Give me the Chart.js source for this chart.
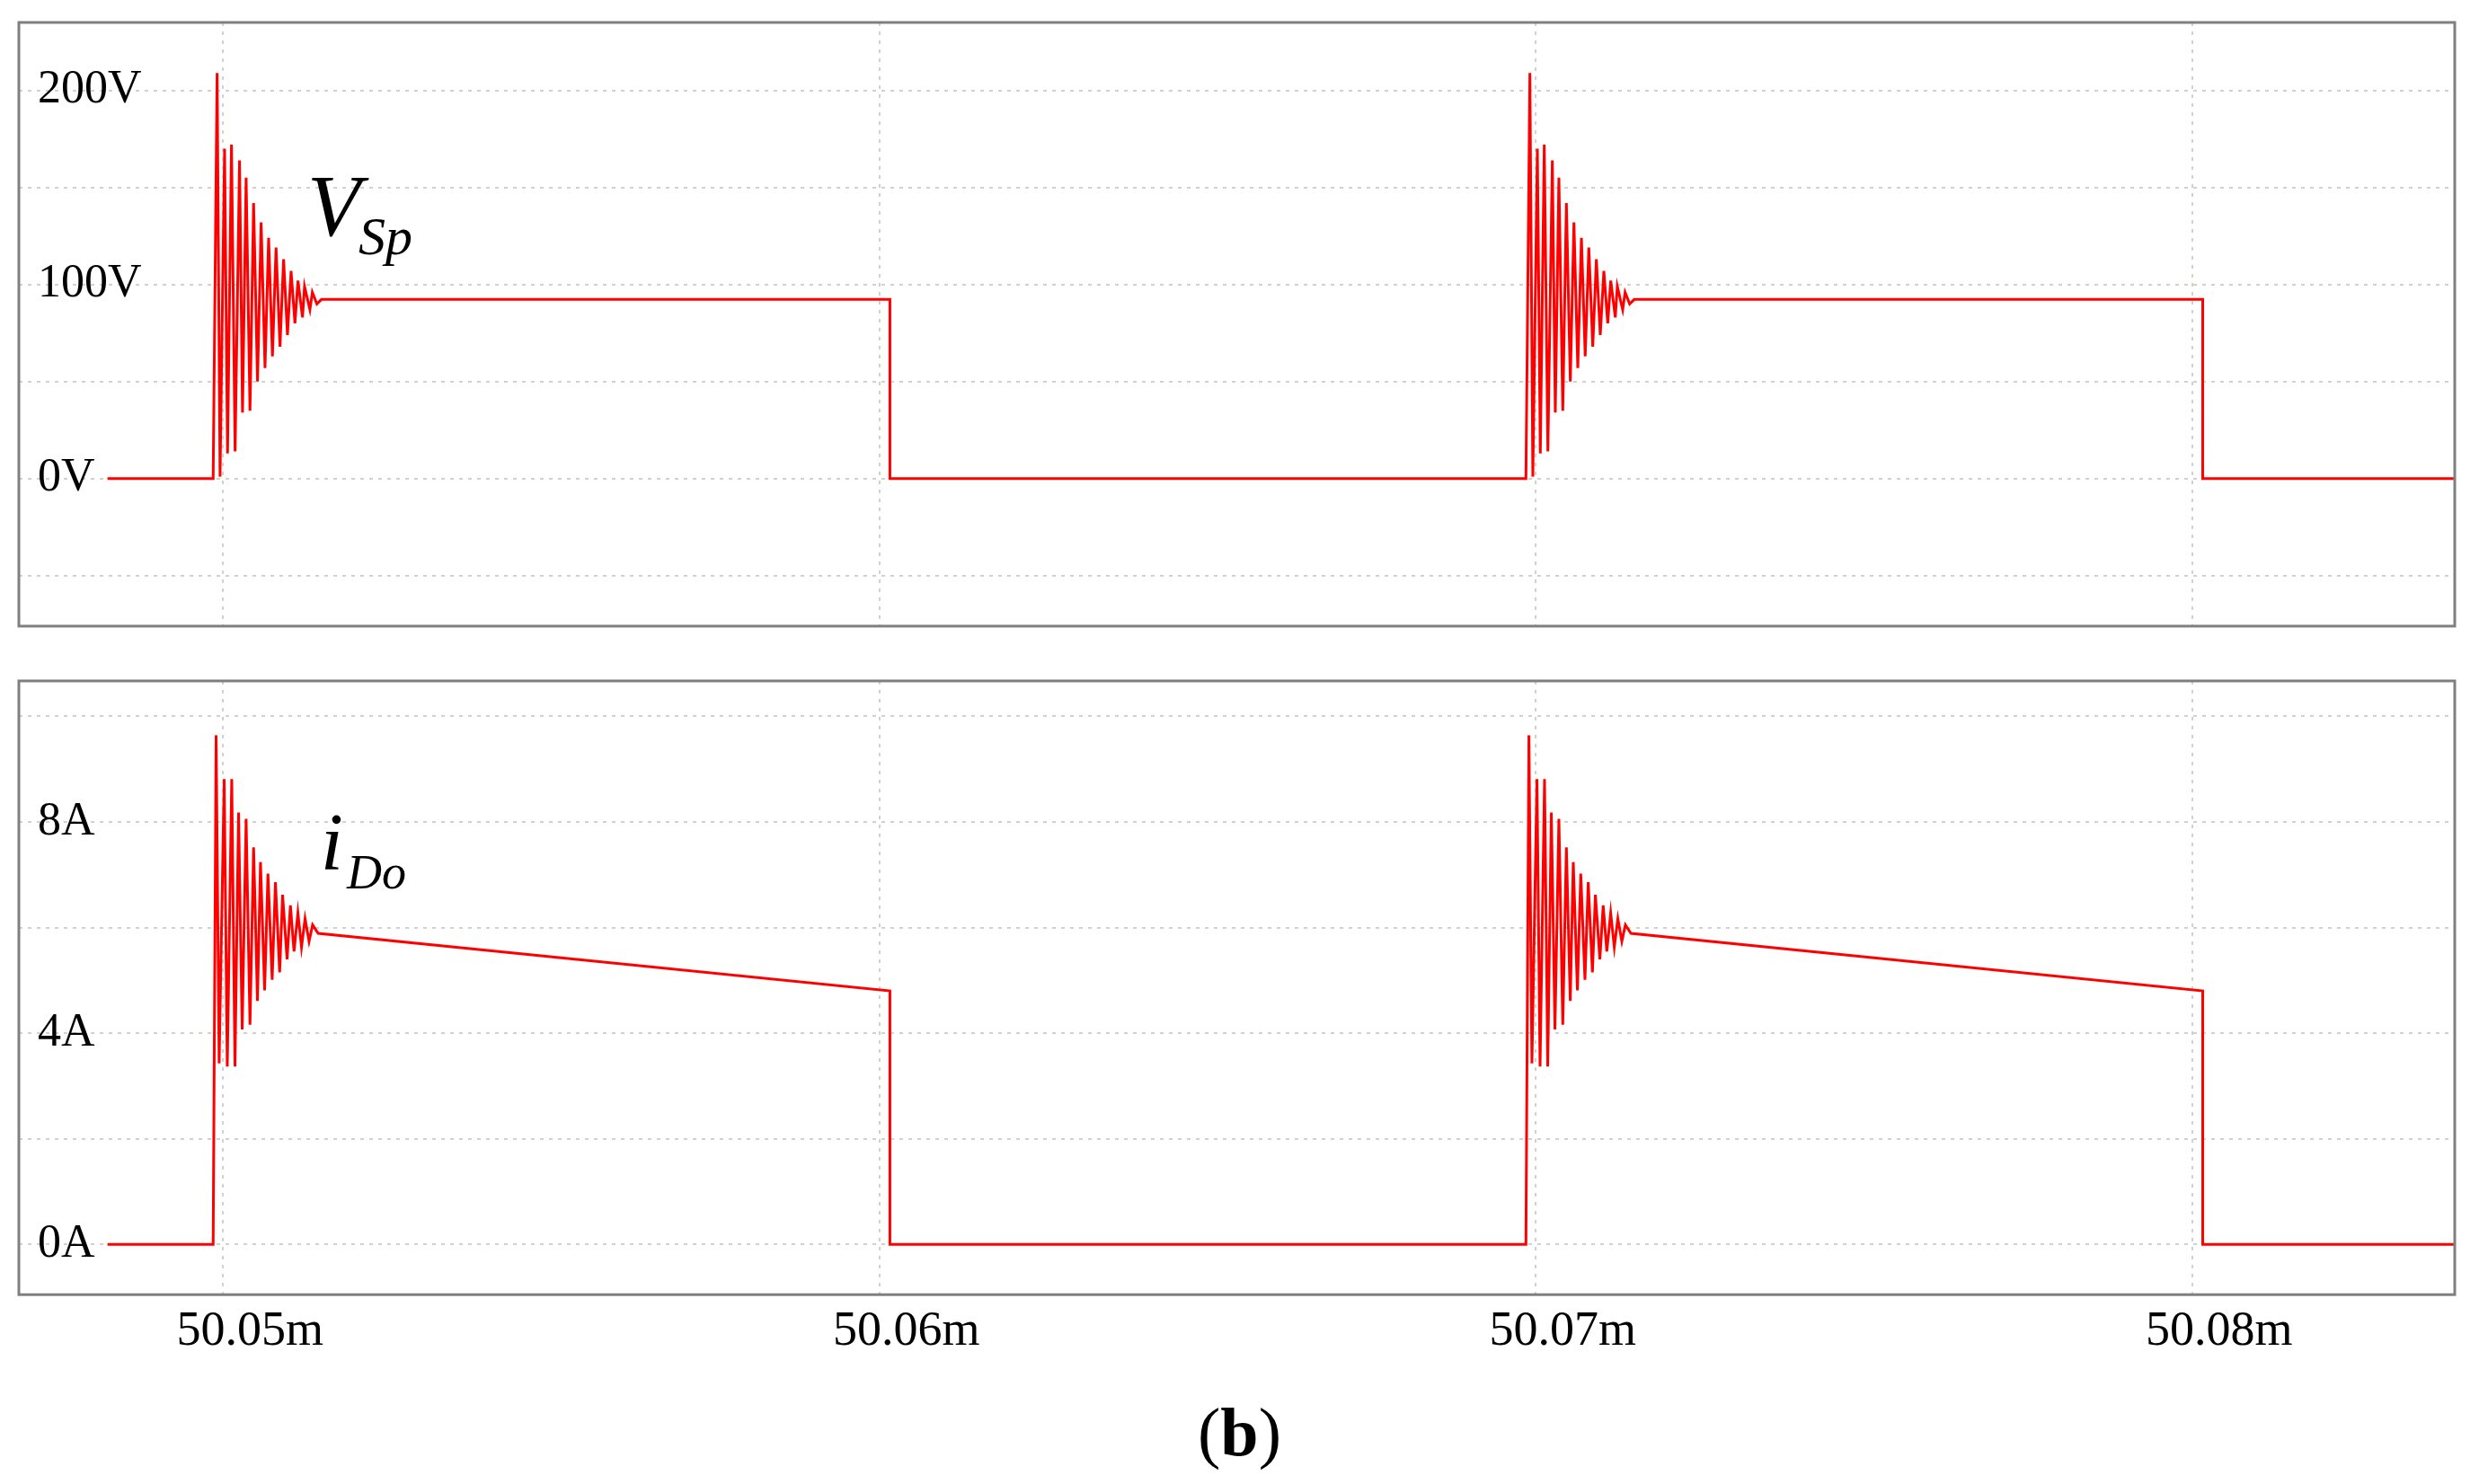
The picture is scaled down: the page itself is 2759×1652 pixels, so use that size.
<!DOCTYPE html>
<html>
<head>
<meta charset="utf-8">
<script src="https://cdn.jsdelivr.net/npm/chart.js@4.4.0/dist/chart.umd.min.js"></script>
<style>
  html, body { margin: 0; padding: 0; background: #fff; }
  body { width: 2759px; height: 1652px; position: relative; overflow: hidden; }
  .panel { position: absolute; left: 0; }
  #vWrap { top: 0; }
  #iWrap { top: 720px; }
  #caption { position: absolute; left: 0; width: 2759px; top: 1551px; line-height: 76px;
             text-align: center; font: 76px "Liberation Serif", serif; color: #000; }
</style>
</head>
<body>
<div class="panel" id="vWrap"><canvas id="vChart" width="2759" height="720"></canvas></div>
<div class="panel" id="iWrap"><canvas id="iChart" width="2759" height="932"></canvas></div>
<div id="caption">(<b>b</b>)</div>
<script>
// time axis, in ms
var xMin = 50.04689, xMax = 50.08400;
var xTicks = [50.05, 50.06, 50.07, 50.08];
var xLabels = ["50.05m", "50.06m", "50.07m", "50.08m"];

// switching instants (ms)
var traceStart = 50.04824;
var pulseOn = [50.04985, 50.06985];
var pulseOff = [50.06016, 50.08016];

// V_Sp ringing after turn-on: offset (us) and value (V)
var vRingT = [0, 0.060, 0.105, 0.174, 0.219, 0.279, 0.334, 0.402, 0.447, 0.502, 0.561, 0.616, 0.676,
              0.731, 0.790, 0.845, 0.903, 0.958, 1.018, 1.073, 1.132, 1.187, 1.246, 1.292, 1.361,
              1.392, 1.474, 1.511, 1.580];
var vRingV = [0, 209, 1, 170, 13, 172, 14, 164, 34, 155, 35, 142, 50,
              132, 57, 124, 63, 119, 68, 113, 74, 107, 80, 102, 83,
              99, 87, 96, 90];
var vHoldT = [1.65];
var vHoldV = [92.3];
var vFall = 92.3;

// i_Do ringing after turn-on
var iRingT = [0, 0.045, 0.091, 0.168, 0.215, 0.283, 0.332, 0.387, 0.442, 0.502, 0.561, 0.616, 0.675,
              0.721, 0.784, 0.835, 0.899, 0.949, 1.013, 1.058, 1.126, 1.177, 1.232, 1.291, 1.346,
              1.400, 1.461, 1.515];
var iRingV = [0, 9.64, 3.43, 8.81, 3.37, 8.81, 3.37, 8.18, 4.07, 8.06, 4.16, 7.52, 4.61,
              7.24, 4.81, 7.02, 5.01, 6.86, 5.15, 6.62, 5.40, 6.42, 5.55, 6.28, 5.63,
              6.17, 5.74, 6.05];
var iHoldT = [1.60];
var iHoldV = [5.89];
var iFall = 4.80;

// y grids and labels
var vGrid = [-50, 0, 50, 100, 150, 200];
var vLabels = ["", "0V", "", "100V", "", "200V"];
var iGrid = [0, 2, 4, 6, 8, 10];
var iLabels = ["0A", "", "4A", "", "8A", ""];

function buildTrace(ringT, ringV, holdT, holdV, fallLevel) {
  var pts = [{x: traceStart, y: 0}];
  for (var k = 0; k < pulseOn.length; k++) {
    var on = pulseOn[k];
    for (var j = 0; j < ringT.length; j++) pts.push({x: on + ringT[j] / 1000, y: ringV[j]});
    for (var h = 0; h < holdT.length; h++) pts.push({x: on + holdT[h] / 1000, y: holdV[h]});
    pts.push({x: pulseOff[k], y: fallLevel});
    pts.push({x: pulseOff[k], y: 0});
  }
  pts.push({x: xMax, y: 0});
  return pts;
}

var framePlugin = {
  id: "frame",
  afterDraw: function (chart) {
    var a = chart.chartArea, ctx = chart.ctx;
    ctx.save();
    ctx.strokeStyle = "#7f7f7f";
    ctx.lineWidth = 3;
    ctx.strokeRect(a.left, a.top, a.right - a.left, a.bottom - a.top);
    ctx.restore();
  }
};

var tracePlugin = {
  id: "traceLabel",
  afterDatasetsDraw: function (chart, args, o) {
    var ctx = chart.ctx, x = chart.scales.x, y = chart.scales.y;
    ctx.save();
    ctx.fillStyle = "#000";
    ctx.textBaseline = "alphabetic";
    ctx.textAlign = "left";
    ctx.font = o.mainFont;
    ctx.fillText(o.main, x.getPixelForValue(o.mainAt[0]), y.getPixelForValue(o.mainAt[1]));
    ctx.font = o.subFont;
    ctx.fillText(o.sub, x.getPixelForValue(o.subAt[0]), y.getPixelForValue(o.subAt[1]));
    ctx.restore();
  }
};

function noPad(s) { s.paddingTop = 0; s.paddingBottom = 0; s.paddingLeft = 0; s.paddingRight = 0; }

function makeChart(id, data, yMin, yMax, grid, labels, showX, pad, label) {
  var gridStyle = { color: "#d2d2cc", lineWidth: 2, drawTicks: false };
  var dash = { display: false, dash: [4, 6] };
  return new Chart(document.getElementById(id), {
    type: "line",
    data: { datasets: [{ data: data, borderColor: "#ff0000", borderWidth: 3,
                         pointRadius: 0, tension: 0, fill: false }] },
    options: {
      responsive: false,
      animation: false,
      events: [],
      layout: { padding: pad },
      plugins: { legend: { display: false }, tooltip: { enabled: false }, traceLabel: label },
      scales: {
        x: {
          type: "linear", min: xMin, max: xMax,
          afterBuildTicks: function (a) { a.ticks = xTicks.map(function (v) { return {value: v}; }); },
          afterFit: noPad,
          ticks: { display: showX, padding: 9, labelOffset: 30, maxRotation: 0, color: "#000",
                   font: { family: "Liberation Serif", size: 54 },
                   callback: function (v, i) { return xLabels[i]; } },
          grid: gridStyle, border: dash
        },
        y: {
          min: yMin, max: yMax,
          afterBuildTicks: function (a) { a.ticks = grid.map(function (v) { return {value: v}; }); },
          afterFit: function (s) { noPad(s); s.width = 0; },
          ticks: { mirror: true, padding: 21, color: "#000",
                   font: { family: "Liberation Serif", size: 52 },
                   callback: function (v, i) { return labels[i]; } },
          grid: gridStyle, border: dash
        }
      }
    },
    plugins: [framePlugin, tracePlugin]
  });
}

makeChart("vChart", buildTrace(vRingT, vRingV, vHoldT, vHoldV, vFall), -76, 235, vGrid, vLabels, false,
  { left: 21, top: 25, right: 27, bottom: 23 },
  { main: "V", mainAt: [50.051283, 125.3], mainFont: "italic 97px 'Liberation Serif'",
    sub: "Sp", subAt: [50.052064, 115.6], subFont: "italic 60px 'Liberation Serif'" });

makeChart("iChart", buildTrace(iRingT, iRingV, iHoldT, iHoldV, iFall), -0.95, 10.67, iGrid, iLabels, true,
  { left: 21, top: 38, right: 27, bottom: 128 },
  { main: "i", mainAt: [50.051487, 7.10], mainFont: "italic 91px 'Liberation Serif'",
    sub: "Do", subAt: [50.051886, 6.74], subFont: "italic 54px 'Liberation Serif'" });
</script>
</body>
</html>
